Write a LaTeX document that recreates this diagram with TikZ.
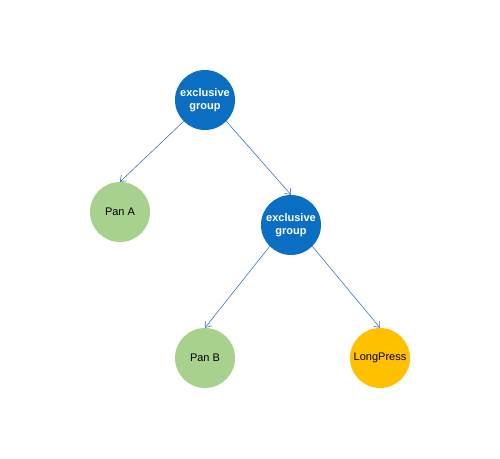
\documentclass[tikz,border=0pt]{standalone}
\usepackage{fontspec}
\setmainfont{Liberation Sans}
\usetikzlibrary{arrows.meta}
\definecolor{grpblue}{HTML}{0A6FC2}
\definecolor{pangreen}{HTML}{A9D18E}
\definecolor{lporange}{HTML}{FFC000}
\definecolor{arrowblue}{HTML}{4472C4}
\begin{document}
\begin{tikzpicture}[x=1pt,y=1pt,
  circ/.style={circle,minimum size=60pt,inner sep=0pt,align=center,font=\fontsize{11}{13}\selectfont},
  grp/.style={circ,fill=grpblue,text=white,font=\fontsize{11}{13}\selectfont\bfseries},
  pan/.style={circ,fill=pangreen,text=black},
  lp/.style={circ,fill=lporange,text=black},
  conn/.style={draw=arrowblue,line width=0.6pt,-{Straight Barb[length=5pt,width=8pt]}}]
\useasboundingbox (0,0) rectangle (500,-458);
\fill[white] (0,0) rectangle (500,-458);
\node[grp] (g1) at (205,-100) {exclusive\\group};
\node[pan] (pa) at (120,-212) {Pan A};
\node[grp] (g2) at (291,-225) {exclusive\\group};
\node[pan] (pb) at (205,-358) {Pan B};
\node[lp]  (lp) at (380,-358) {LongPress};
\draw[conn] (g1.south west) -- (pa.north);
\draw[conn] (g1.south east) -- (g2.north);
\draw[conn] (g2.south west) -- (pb.north);
\draw[conn] (g2.south east) -- (lp.north);
\end{tikzpicture}
\end{document}
